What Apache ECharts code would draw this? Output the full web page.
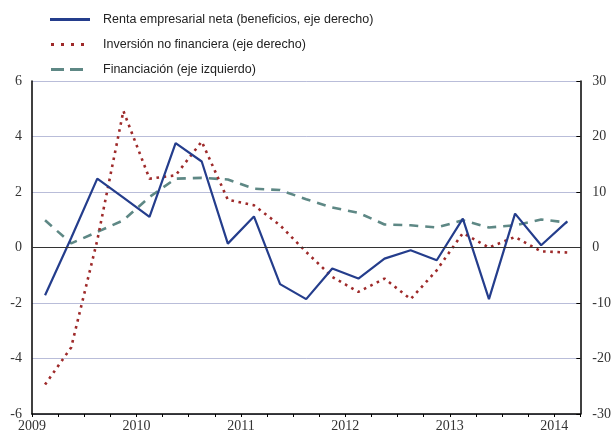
<!DOCTYPE html>
<html>
<head>
<meta charset="utf-8">
<script src="https://cdn.jsdelivr.net/npm/echarts@6/dist/echarts.min.js"></script>
<style>
  html, body { margin: 0; padding: 0; background: #fff; }
  #chart { width: 614px; height: 433px; }
</style>
</head>
<body>
<div id="chart"></div>
<script>
// trimestres 2009T1 .. 2014T1
var quarters = ['2009T1','2009T2','2009T3','2009T4','2010T1','2010T2','2010T3','2010T4',
                '2011T1','2011T2','2011T3','2011T4','2012T1','2012T2','2012T3','2012T4',
                '2013T1','2013T2','2013T3','2013T4','2014T1'];
var yearLabels = ['2009','2010','2011','2012','2013','2014'];

// eje derecho
var renta = [-8.6, 1.7, 12.4, 9.0, 5.5, 18.8, 15.5, 0.7, 5.6, -6.6, -9.3, -3.8, -5.6, -2.0,
             -0.5, -2.3, 5.2, -9.3, 6.1, 0.4, 4.7];
var inversion = [-24.7, -18.0, 1.3, 24.6, 12.4, 13.0, 19.1, 8.6, 7.6, 4.0, -0.8, -5.3, -8.0, -5.6,
                 -9.3, -4.1, 2.6, 0.0, 1.9, -0.7, -0.9];
// eje izquierdo
var financiacion = [0.98, 0.15, 0.56, 0.98, 1.82, 2.48, 2.51, 2.45, 2.12, 2.07, 1.74, 1.44, 1.25, 0.83,
                    0.80, 0.72, 0.98, 0.72, 0.80, 1.01, 0.90];

var names = ['Renta empresarial neta (beneficios, eje derecho)',
             'Inversión no financiera (eje derecho)',
             'Financiación (eje izquierdo)'];
var colors = ['#243d8c', '#9e2a2a', '#5e8885'];

var toXY = function (arr) {
    return arr.map(function (v, i) { return [i + 0.5, v]; });
};

var chart = echarts.init(document.getElementById('chart'));
var serifFont = '"Liberation Serif", "Times New Roman", serif';
var sansFont = '"Liberation Sans", Arial, sans-serif';
var legendText = function (padLeft) {
    return { fontFamily: sansFont, fontSize: 12.5, color: '#222', padding: [0, 0, 0, padLeft] };
};

var option = {
    animation: false,
    legend: [
        { data: [{ name: names[0], icon: 'path://M0,0h40v3h-40z' }],
          left: 45, top: 8, itemWidth: 40, itemHeight: 3, textStyle: legendText(8) },
        { data: [{ name: names[1], icon: 'path://M0,0h3v3h-3z M10,0h3v3h-3z M20,0h3v3h-3z M30,0h3v3h-3z' }],
          left: 46, top: 33, itemWidth: 33, itemHeight: 3, textStyle: legendText(14) },
        { data: [{ name: names[2], icon: 'path://M0,0h13v3h-13z M19,0h13v3h-13z' }],
          left: 46, top: 58, itemWidth: 32, itemHeight: 3, textStyle: legendText(15) }
    ],
    grid: { left: 32, right: 30, top: 81, bottom: 16, containLabel: false },
    xAxis: {
        type: 'value',
        min: 0,
        max: quarters.length,
        interval: 1,
        axisLine: { onZero: false, lineStyle: { color: '#000', width: 1.5 } },
        axisTick: { inside: false, length: 3, lineStyle: { color: '#000' } },
        splitLine: { show: false },
        axisLabel: {
            margin: 5,
            fontFamily: serifFont,
            fontSize: 14,
            color: '#333',
            formatter: function (v) {
                return v % 4 === 0 ? (yearLabels[v / 4] || '') : '';
            }
        }
    },
    yAxis: [
        {
            type: 'value', min: -6, max: 6, interval: 2, position: 'left',
            axisLine: { show: true, lineStyle: { color: '#000', width: 1.5 } },
            axisTick: { show: false },
            splitLine: { lineStyle: { color: '#b9bdd9', width: 1 } },
            axisLabel: { fontFamily: serifFont, fontSize: 14, color: '#333', margin: 10 }
        },
        {
            type: 'value', min: -30, max: 30, interval: 10, position: 'right',
            axisLine: { show: true, lineStyle: { color: '#000', width: 1.5 } },
            axisTick: { show: true, inside: true, length: 4, lineStyle: { color: '#000' } },
            splitLine: { show: false },
            axisLabel: { fontFamily: serifFont, fontSize: 14, color: '#333', margin: 12 }
        }
    ],
    series: [
        {
            name: names[0],
            type: 'line', yAxisIndex: 1, symbol: 'none', z: 4,
            lineStyle: { color: colors[0], width: 2.2 },
            itemStyle: { color: colors[0] },
            data: toXY(renta),
            markLine: {
                silent: true, symbol: 'none', label: { show: false },
                lineStyle: { color: '#333', width: 1, type: 'solid' },
                data: [{ yAxis: 0 }]
            }
        },
        {
            name: names[1],
            type: 'line', yAxisIndex: 1, symbol: 'none', z: 3,
            lineStyle: { color: colors[1], width: 2.6, type: [2.6, 4.6] },
            itemStyle: { color: colors[1] },
            data: toXY(inversion)
        },
        {
            name: names[2],
            type: 'line', yAxisIndex: 0, symbol: 'none', z: 2,
            lineStyle: { color: colors[2], width: 2.6, type: [9, 7] },
            itemStyle: { color: colors[2] },
            data: toXY(financiacion)
        }
    ]
};

chart.setOption(option);
</script>
</body>
</html>
